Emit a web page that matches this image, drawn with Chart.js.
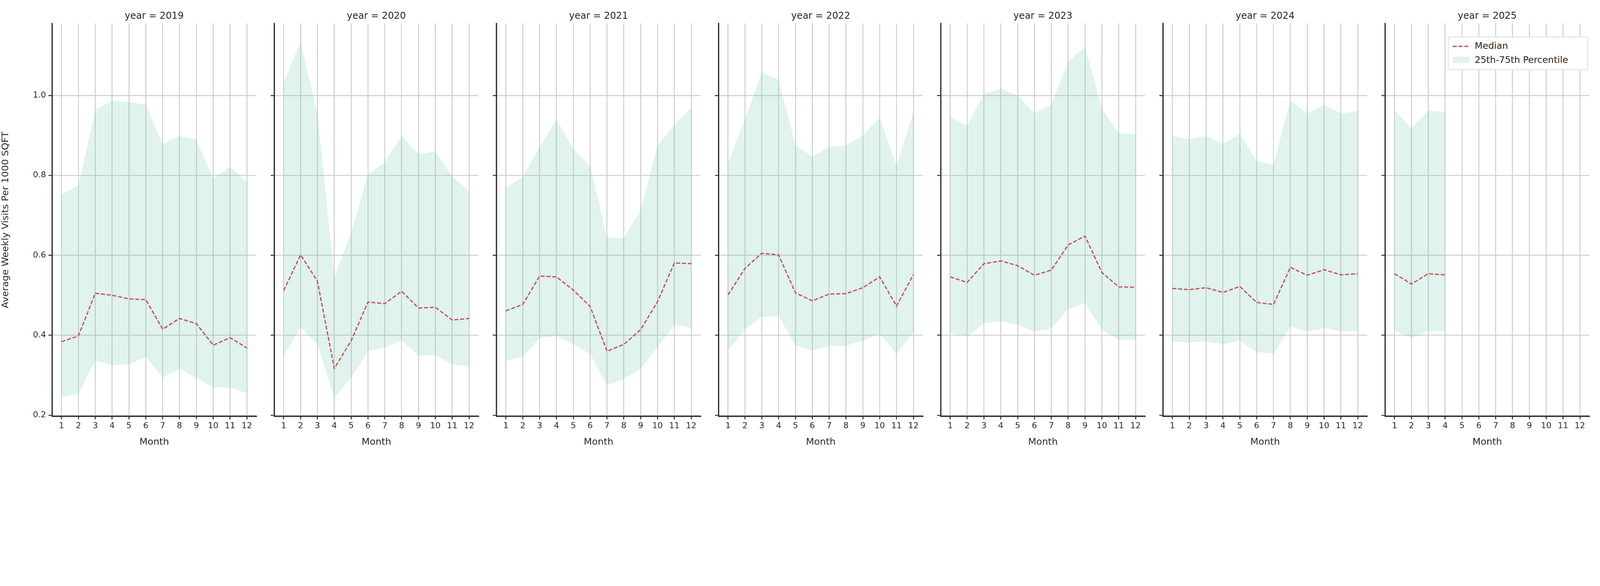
<!DOCTYPE html>
<html><head><meta charset="utf-8">
<script src="https://cdn.jsdelivr.net/npm/chart.js@4"></script>
<style>
html,body{margin:0;padding:0;background:#fff;overflow:hidden}
#wrap{width:5250px;height:1500px;position:absolute;left:0;top:0;transform-origin:0 0;font-family:"DejaVu Sans",sans-serif;color:#262626;background:#fff}
canvas{position:absolute;top:0}
.t{position:absolute;top:32px;width:670px;text-align:center;font-size:31px}
#leg{position:absolute;left:4751px;top:120px;width:456px;height:106px;border:2px solid #d0d0d0;border-radius:6px;background:#fff;font-size:30px;z-index:5}
#leg div{position:absolute;left:86px}
</style></head><body>
<div id="wrap">
<div id="leg">
<svg width="80" height="106" style="position:absolute;left:0;top:0"><line x1="14" y1="30" x2="68" y2="30" stroke="#c44e52" stroke-width="4" stroke-dasharray="13,6"/><rect x="14" y="64" width="54" height="20" fill="rgba(102,194,165,0.2)"/></svg>
<div style="top:10px">Median</div><div style="top:56px">25th-75th Percentile</div></div>
</div>
<script>
const years = [2019,2020,2021,2022,2023,2024,2025];
const months = [1,2,3,4,5,6,7,8,9,10,11,12];
const yTicks = [0.2,0.4,0.6,0.8,1.0];
const median2019=[0.384,0.398,0.505,0.500,0.491,0.489,0.415,0.442,0.429,0.375,0.394,0.368];
const p75_2019=[0.753,0.774,0.964,0.987,0.983,0.977,0.878,0.899,0.890,0.792,0.821,0.783];
const p25_2019=[0.246,0.253,0.337,0.324,0.327,0.347,0.294,0.316,0.293,0.269,0.269,0.255];
const median2020=[0.512,0.601,0.535,0.317,0.386,0.483,0.479,0.510,0.468,0.470,0.438,0.442];
const p75_2020=[1.033,1.134,0.955,0.546,0.656,0.802,0.833,0.899,0.853,0.860,0.796,0.761];
const p25_2020=[0.349,0.419,0.378,0.243,0.294,0.360,0.369,0.388,0.348,0.351,0.327,0.321];
const median2021=[0.461,0.477,0.548,0.546,0.513,0.472,0.360,0.377,0.414,0.484,0.581,0.579];
const p75_2021=[0.769,0.796,0.871,0.940,0.865,0.823,0.645,0.643,0.714,0.875,0.926,0.969];
const p25_2021=[0.337,0.346,0.393,0.398,0.378,0.353,0.274,0.291,0.316,0.371,0.426,0.419];
const median2022=[0.501,0.567,0.605,0.601,0.506,0.486,0.503,0.504,0.519,0.546,0.473,0.552];
const p75_2022=[0.831,0.940,1.057,1.039,0.875,0.847,0.871,0.875,0.900,0.944,0.823,0.958];
const p25_2022=[0.362,0.415,0.446,0.448,0.375,0.362,0.373,0.374,0.386,0.404,0.353,0.408];
const median2023=[0.546,0.532,0.579,0.586,0.574,0.550,0.563,0.626,0.648,0.557,0.521,0.520];
const p75_2023=[0.946,0.924,1.004,1.017,0.999,0.955,0.977,1.085,1.121,0.968,0.905,0.904];
const p25_2023=[0.406,0.397,0.430,0.435,0.426,0.409,0.417,0.465,0.481,0.415,0.388,0.388];
const median2024=[0.517,0.514,0.519,0.507,0.522,0.482,0.477,0.570,0.550,0.564,0.551,0.554];
const p75_2024=[0.898,0.891,0.899,0.879,0.904,0.836,0.826,0.988,0.955,0.977,0.955,0.961];
const p25_2024=[0.384,0.382,0.385,0.377,0.387,0.358,0.354,0.422,0.409,0.418,0.410,0.410];
const median2025=[0.554,0.528,0.554,0.551];
const p75_2025=[0.962,0.918,0.962,0.958];
const p25_2025=[0.411,0.393,0.411,0.410];
const medians=[median2019,median2020,median2021,median2022,median2023,median2024,median2025];
const p75s=[p75_2019,p75_2020,p75_2021,p75_2022,p75_2023,p75_2024,p75_2025];
const p25s=[p25_2019,p25_2020,p25_2021,p25_2022,p25_2023,p25_2024,p25_2025];

const wrap=document.getElementById('wrap');
const sc=window.innerWidth/5250;
wrap.style.transform='scale('+sc+')';
const pts=a=>a.map((v,i)=>({x:months[i],y:v}));
years.forEach((yr,i)=>{
  const c=document.createElement('canvas');
  c.style.left=(729*i)+'px';
  c.style.width='850px';c.style.height='1500px';
  c.width=850;c.height=1500;
  wrap.appendChild(c);
  const t=document.createElement('div');t.className='t';
  t.style.left=(171+729*i)+'px';t.textContent='year = '+yr;wrap.appendChild(t);
  const first=i===0;
  new Chart(c,{type:'line',
    data:{datasets:[
      {data:pts(medians[i]),borderColor:'#c44e52',borderWidth:4,borderDash:[13,6],pointRadius:0,fill:false,order:0},
      {data:pts(p75s[i]),borderWidth:0,borderColor:'rgba(0,0,0,0)',backgroundColor:'rgba(102,194,165,0.2)',pointRadius:0,fill:'+1',order:1},
      {data:pts(p25s[i]),borderWidth:0,borderColor:'rgba(0,0,0,0)',pointRadius:0,fill:false,order:1}
    ]},
    options:{responsive:false,animation:false,devicePixelRatio:1,
      layout:{padding:{top:77,right:9,left:0,bottom:0}},
      plugins:{legend:{display:false},tooltip:{enabled:false}},
      scales:{
        x:{type:'linear',min:0.44,max:12.56,
          afterBuildTicks:s=>{s.ticks=months.map(v=>({value:v}));},
          afterFit:s=>{s.height=134;},
          ticks:{color:'#262626',font:{size:27,family:'DejaVu Sans'},padding:6,maxRotation:0,autoSkip:false},
          grid:{color:'#cccccc',lineWidth:3,tickColor:'#262626',tickLength:10,tickWidth:3},
          border:{color:'#262626',width:4},
          title:{display:true,text:'Month',color:'#262626',font:{size:31,family:'DejaVu Sans'},padding:{top:0,bottom:30}}},
        y:{min:0.197,max:1.18,
          afterBuildTicks:s=>{s.ticks=yTicks.map(v=>({value:v}));},
          afterFit:s=>{s.width=171;},
          ticks:{color:'#262626',font:{size:27,family:'DejaVu Sans'},padding:8,callback:v=>first?v.toFixed(1):''},
          grid:{color:'#cccccc',lineWidth:3,tickColor:'#262626',tickLength:12,tickWidth:3},
          border:{color:'#262626',width:4},
          title:{display:first,text:'Average Weekly Visits Per 1000 SQFT',color:'#262626',font:{size:31,family:'DejaVu Sans'},padding:{top:0,bottom:10}}}
      }}});
});
</script></body></html>
